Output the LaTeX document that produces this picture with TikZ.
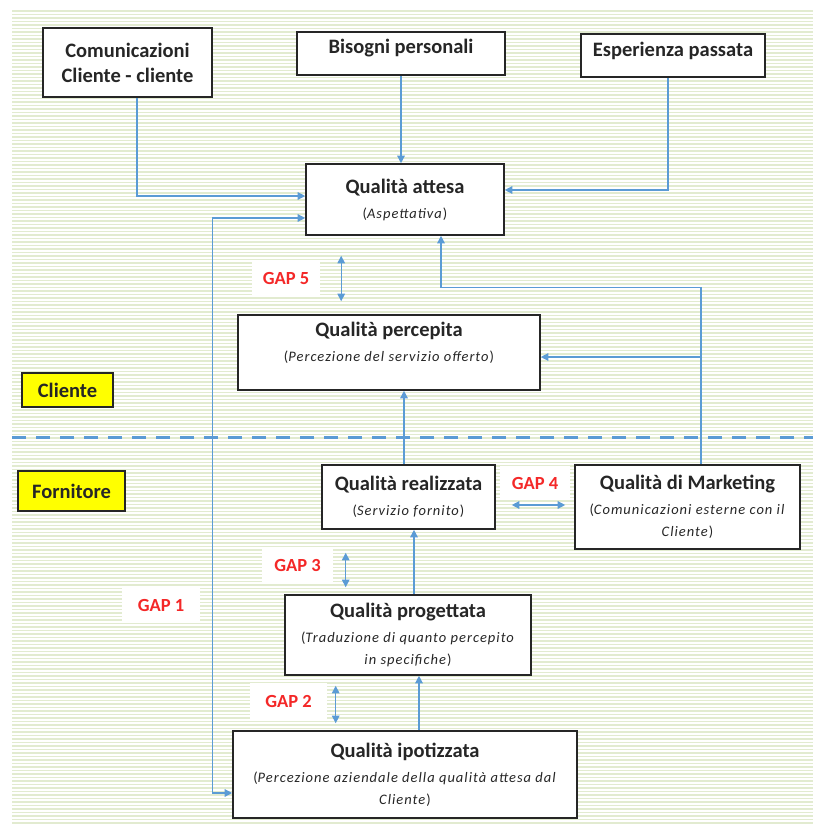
\documentclass[tikz,border=0pt]{standalone}
\usepackage{fontspec}
\setmainfont{Carlito}
\usepackage{tikz}
\usetikzlibrary{arrows.meta, positioning}
\definecolor{linkblue}{HTML}{5B9BD5}
\definecolor{boxgrey}{HTML}{262626}
\definecolor{gapred}{HTML}{F42828}
\definecolor{stripegreen}{HTML}{E2EBD0}
\definecolor{tagyellow}{HTML}{FFFF00}
\newcommand{\subfnt}{\fontsize{14.5}{20}\selectfont\mdseries\addfontfeature{LetterSpace=7}}

\begin{document}
\begin{tikzpicture}[x=1pt, y=-1pt,
    font=\fontsize{20.5}{25}\selectfont\bfseries,
    qualbox/.style={rectangle, draw=boxgrey, line width=1.6pt, fill=white, align=center,
      inner sep=2pt, text=boxgrey},
    tagbox/.style={rectangle, draw=boxgrey, line width=1.6pt, fill=tagyellow, text=boxgrey},
    gaptag/.style={rectangle, fill=white, text=gapred, minimum width=72pt, minimum height=36pt,
      font=\fontsize{18.5}{20}\selectfont\bfseries},
    link/.style={-{Triangle[length=7.5pt,width=7.5pt]}, linkblue, line width=1.3pt},
    gaplink/.style={{Triangle[length=7.5pt,width=7.5pt]}-{Triangle[length=7.5pt,width=7.5pt]},
      linkblue, line width=1.3pt}]

    % striped background
    \fill[white] (0,0) rectangle (813,825);
    \foreach \ypos in {11,14.5,...,823}
      \draw[stripegreen, line width=1.8pt] (12,\ypos) -- (813,\ypos);
    \draw[linkblue, line width=3pt, dash pattern=on 14pt off 10pt] (12,437) -- (813,437);

    \node (comcli) [qualbox, minimum width=169pt, minimum height=69pt] at (127.5,62.5)
      {Comunicazioni\\Cliente - cliente};
    \node (bisogni) [qualbox, minimum width=208pt, minimum height=43pt, text depth=15pt] at (401,53.5)
      {Bisogni personali};
    \node (esperienza) [qualbox, minimum width=184pt, minimum height=43pt, text depth=13pt] at (673,55.5)
      {Esperienza passata};
    \node (attesa) [qualbox, minimum width=198pt, minimum height=71pt] at (405,199.5)
      {Qualità attesa\\{\subfnt(\textit{Aspettativa})}};
    \node (percepita) [qualbox, minimum width=302pt, minimum height=75pt, text depth=21.5pt] at (389,352.5)
      {Qualità percepita\\{\subfnt(\textit{Percezione del servizio offerto})}};
    \node (realizzata) [qualbox, minimum width=173pt, minimum height=64pt] at (408.5,497)
      {Qualità realizzata\\{\subfnt(\textit{Servizio fornito})}};
    \node (marketing) [qualbox, minimum width=225pt, minimum height=84pt] at (687.5,507)
      {Qualità di Marketing\\{\subfnt(\textit{Comunicazioni esterne con il}}\\[-3pt]{\subfnt\textit{Cliente})}};
    \node (progettata) [qualbox, minimum width=246pt, minimum height=80pt] at (408,635)
      {Qualità progettata\\{\subfnt(\textit{Traduzione di quanto percepito}}\\[-3pt]{\subfnt\textit{in specifiche})}};
    \node (ipotizzata) [qualbox, minimum width=344pt, minimum height=87pt] at (405,774.5)
      {Qualità ipotizzata\\{\subfnt(\textit{Percezione aziendale della qualità attesa dal}}\\[-3pt]{\subfnt\textit{Cliente})}};

    \node (cliente) [tagbox, minimum width=91pt, minimum height=34pt] at (67.5,390) {Cliente};
    \node (fornitore) [tagbox, minimum width=107pt, minimum height=40pt] at (71.5,491) {Fornitore};

    \node (gapone) [gaptag, minimum width=78pt, minimum height=34pt] at (161,605) {GAP 1};
    \node (gaptwo) [gaptag, minimum width=77pt, minimum height=37pt] at (288.5,701.5) {GAP 2};
    \node (gapthree) [gaptag, minimum width=71pt, minimum height=34pt] at (297.5,565) {GAP 3};
    \node (gapfour) [gaptag, minimum width=70pt, minimum height=34pt] at (535,483) {GAP 4};
    \node (gapfive) [gaptag, minimum width=68pt, minimum height=37pt] at (286,278.5) {GAP 5};

    % inputs to the expected quality
    \draw [link] ([xshift=9.5pt]comcli.south) |- ([yshift=3.5pt]attesa.west);
    \draw [link] (bisogni.south) -- (bisogni.south |- attesa.north);
    \draw [link] ([xshift=-5pt]esperienza.south) |- ([yshift=9.5pt]attesa.east);
    \draw [gaplink] ([yshift=-18.5pt]attesa.west) -- ++(-93,0) |- ([yshift=-18.5pt]ipotizzata.west);

    % marketing feeds both customer boxes
    \coordinate (mkt) at ([xshift=13.5pt]marketing.north);
    \draw [link] (mkt) |- ([xshift=36pt, yshift=-52pt]attesa.south) -- ([xshift=36pt]attesa.south);
    \draw [link] ([yshift=-4.5pt]percepita.east -| mkt) -- ([yshift=-4.5pt]percepita.east);

    % supplier chain
    \draw [link] ([xshift=-4.5pt]realizzata.north) -- ([xshift=-4.5pt]realizzata.north |- percepita.south);
    \draw [link] ([xshift=6pt]progettata.north) -- ([xshift=6pt]progettata.north |- realizzata.south);
    \draw [link] ([xshift=14pt]ipotizzata.north) -- ([xshift=14pt]ipotizzata.north |- progettata.south);

    % gaps
    \draw [gaplink] ([xshift=21pt, yshift=-20pt]gapfive.east |- attesa.south)
      -- ([xshift=21pt, yshift=13pt]gapfive.east |- percepita.north);
    \draw [gaplink] ([xshift=16pt, yshift=-8pt]realizzata.east)
      -- ([xshift=-9pt, yshift=-8pt]realizzata.east -| marketing.west);
    \draw [gaplink] ([xshift=12.5pt, yshift=-23pt]gapthree.east |- realizzata.south)
      -- ([xshift=12.5pt, yshift=7pt]gapthree.east |- progettata.north);
    \draw [gaplink] ([xshift=8.5pt, yshift=-10pt]gaptwo.east |- progettata.south)
      -- ([xshift=8.5pt, yshift=7pt]gaptwo.east |- ipotizzata.north);
\end{tikzpicture}
\end{document}
